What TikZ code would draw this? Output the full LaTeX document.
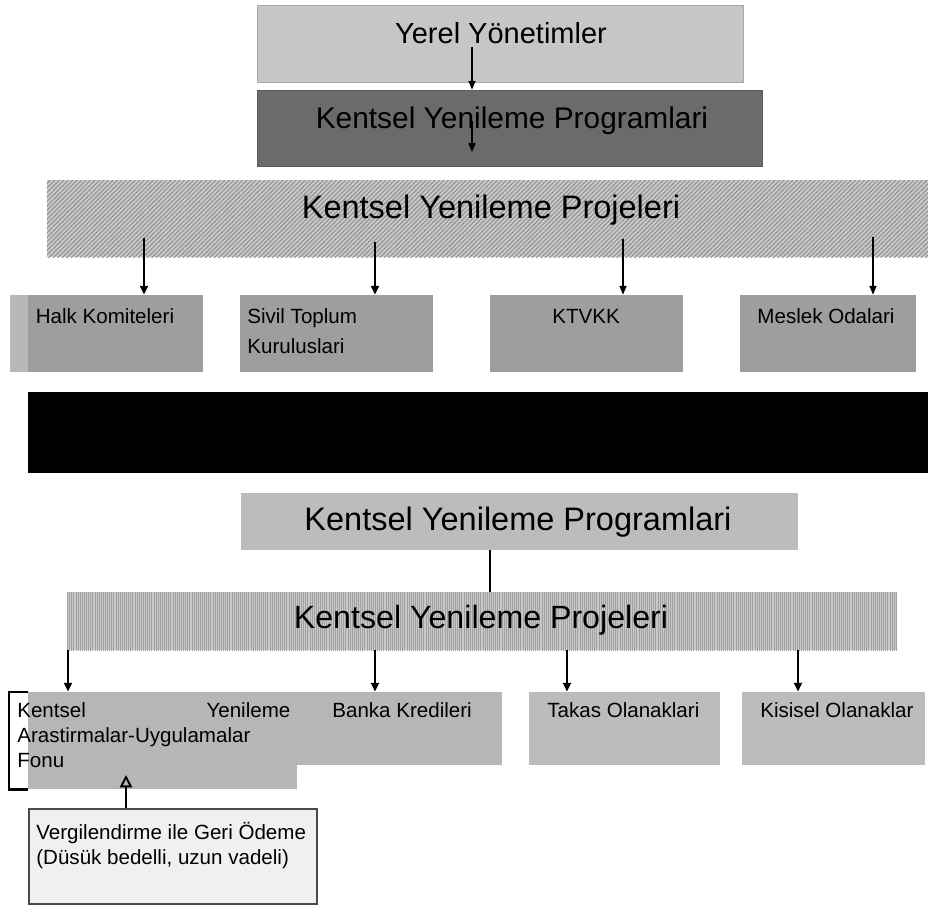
\documentclass[tikz,border=0pt]{standalone}
\usepackage{fontspec}
\setmainfont{Liberation Sans}
\usetikzlibrary{arrows.meta, positioning, patterns.meta}

\definecolor{yerelgray}{HTML}{C6C6C6}
\definecolor{progdark}{HTML}{6B6B6B}
\definecolor{hatchgray}{HTML}{C8C8C8}
\definecolor{hatchline}{HTML}{8A8A8A}
\definecolor{upgray}{HTML}{9E9E9E}
\definecolor{upstrip}{HTML}{B8B8B8}
\definecolor{lowgray}{HTML}{BCBCBC}
\definecolor{vergigray}{HTML}{F0F0F0}
\definecolor{vergiline}{HTML}{4A4A4A}

\begin{document}
\begin{tikzpicture}
[x=0.2mm, y=-0.2mm,
   arr/.style={line width=1.1pt, arrows={-Triangle[length=5pt, width=4.5pt]}},
   thinarr/.style={line width=0.7pt, arrows={-Triangle[length=5pt, width=4pt]}},
   box/.style={shape=rectangle, inner sep=0pt, minimum height=15.4mm},
   upbox/.style={box, fill=upgray, minimum width=38.6mm},
   lowbox/.style={box, fill=lowgray, minimum height=14.6mm},
   title/.style={inner sep=0pt, anchor=base, font=\fontsize{18.5}{22}\selectfont},
   small/.style={inner sep=0pt, font=\fontsize{11.7}{14.2}\selectfont}]
\useasboundingbox (0,0) rectangle (928,906);
% upper scheme
\node[box, fill=yerelgray, draw=yerelgray!85!black, minimum width=97.2mm] (yerel) at (500,43.5) {};
\node[title, font=\fontsize{16.5}{20}\selectfont] (yerelT) at (501,43) {Yerel Yönetimler};
\node[box, fill=progdark, draw=progdark!85!black, minimum width=101mm, minimum height=15.2mm] (progA) at (509.5,128) {};
\node[title, font=\fontsize{17}{20}\selectfont] (progAT) at (512,128) {Kentsel Yenileme Programlari};
\coordinate (a1) at (472,47);
\coordinate (a2) at (472,121);
\coordinate (a2e) at (472,152);
\draw [thinarr] (a1) to (a1 |- progA.north);
\draw [thinarr] (a2) to (a2e);
\node[box, fill=hatchgray, postaction={pattern color=hatchline, pattern={Lines[angle=45, distance=1.8pt, line width=0.5pt]}}, minimum width=176.2mm] (projA) at (487.5,218.5) {};
\node[title] (projAT) at (491,218) {Kentsel Yenileme Projeleri};
\node[upbox] (halk) at (106.5,333.5) {};
\fill[upstrip] (halk.north west) rectangle ++(18,77);
\node[upbox] (sivil) at (336.5,333.5) {};
\node[upbox] (ktvkk) at (586.5,333.5) {};
\node[upbox, minimum width=35.2mm] (meslek) at (828,333.5) {};
\node[small, anchor=base] (halkT) at (105,323) {Halk Komiteleri};
\node[small, anchor=north west, align=left, font=\fontsize{11.7}{17}\selectfont] (sivilT) at (247,308) {Sivil Toplum\\Kuruluslari};
\node[small, anchor=base] (ktvkkT) at (586,323) {KTVKK};
\node[small, anchor=base] (meslekT) at (826,323) {Meslek Odalari};
\coordinate (p1) at (144,238);
\coordinate (p2) at (375,242);
\coordinate (p3) at (623,239);
\coordinate (p4) at (873,237);
\draw [arr] (p1) to (p1 |- halk.north);
\draw [arr] (p2) to (p2 |- sivil.north);
\draw [thinarr] (p3) to (p3 |- ktvkk.north);
\draw [thinarr] (p4) to (p4 |- meslek.north);
% black band
\node[box, fill=black, minimum width=180mm, minimum height=16.2mm] (band) at (478,432.5) {};
% lower scheme
\node[box, fill=lowgray, minimum width=111.4mm, minimum height=11.4mm] (progB) at (519.5,521.5) {};
\node[title] (progBT) at (518,530) {Kentsel Yenileme Programlari};
\node[box, fill=hatchgray, postaction={pattern color=hatchline!80, pattern={Lines[angle=90, distance=1.2pt, line width=0.45pt]}}, minimum width=166mm, minimum height=11.6mm] (projB) at (482,621) {};
\node[title, font=\fontsize{18.3}{22}\selectfont] (projBT) at (481,628) {Kentsel Yenileme Projeleri};
\coordinate (q0) at (490,550);
\draw [line width=1.2pt] (q0) to (q0 |- projB.north);
\node[box, fill=lowgray!97!black, minimum width=53.8mm, minimum height=19.4mm] (fon) at (162.5,740.5) {};
\node[lowbox, fill=lowgray!97!black, minimum width=41mm] (banka) at (399.5,728.5) {};
\node[lowbox, minimum width=38.2mm] (takas) at (624.5,728.5) {};
\node[lowbox, minimum width=36.6mm] (kisisel) at (833.5,728.5) {};
\draw [line width=1.3pt] (fon.north west) -- ++(-19,0) |- (fon.south west);
\node[small, anchor=north west, text width=54.6mm, align=left] (fonT) at (17,702) {Kentsel\hfill Yenileme\\Arastirmalar-Uygulamalar\\Fonu};
\node[small, anchor=base west] (bankaT) at (332,717) {Banka Kredileri};
\node[small, anchor=base west] (takasT) at (547,717) {Takas Olanaklari};
\node[small, anchor=base west] (kisiselT) at (760,717) {Kisisel Olanaklar};
\foreach \x/\n in {68/fon, 375/banka, 567/takas, 798/kisisel}
  {\coordinate (s) at (\x,650);
   \draw [arr] (s) to (s |- \n.north);}
\node[box, fill=vergigray, draw=vergiline, line width=1.2pt, minimum width=57.6mm, minimum height=19mm] (vergi) at (173,856.5) {};
\node[small, anchor=north west, align=left] (vergiT) at (36,822) {Vergilendirme ile Geri Ödeme\\(Düsük bedelli, uzun vadeli)};
\coordinate (vUp) at (126,775);
\draw [line width=1.1pt, arrows={-Triangle[open, length=7pt, width=7pt]}] (vergi.north -| vUp) to (vUp);
\end{tikzpicture}
\end{document}
